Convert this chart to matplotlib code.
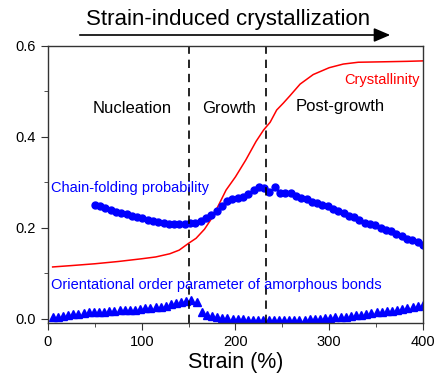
import numpy as np
import matplotlib
matplotlib.use("Agg")
import matplotlib.pyplot as plt
from matplotlib.ticker import MultipleLocator, FormatStrFormatter

plt.rcParams['font.family'] = ['Liberation Sans', 'DejaVu Sans']

# Crystallinity (red line)
cryst_x = [5, 25, 50, 75, 100, 115, 130, 140, 150, 158, 167, 176, 183, 190, 200,
           211, 222, 230, 237, 244, 251, 258, 269, 283, 300, 315, 331, 358, 383, 400]
cryst_y = [0.114, 0.117, 0.121, 0.126, 0.132, 0.136, 0.143, 0.151, 0.166, 0.177,
           0.197, 0.225, 0.254, 0.283, 0.312, 0.349, 0.390, 0.415, 0.432, 0.459,
           0.474, 0.490, 0.516, 0.537, 0.552, 0.560, 0.564, 0.565, 0.566, 0.567]

# Chain-folding probability (blue circles), strain 50..400
fold_y = [0.251, 0.248, 0.243, 0.239, 0.235, 0.232, 0.230, 0.227, 0.224, 0.221,
          0.218, 0.215, 0.212, 0.210, 0.209, 0.208, 0.208, 0.208, 0.210, 0.211,
          0.215, 0.222, 0.228, 0.236, 0.248, 0.258, 0.263, 0.265, 0.267, 0.274,
          0.284, 0.289, 0.288, 0.278, 0.289, 0.277, 0.276, 0.276, 0.270, 0.266,
          0.264, 0.257, 0.255, 0.251, 0.247, 0.241, 0.236, 0.232, 0.227, 0.223,
          0.218, 0.211, 0.208, 0.206, 0.200, 0.195, 0.192, 0.186, 0.181, 0.176,
          0.173, 0.168, 0.163]
fold_x = np.linspace(50, 400, len(fold_y))

# Orientational order parameter of amorphous bonds (blue triangles), strain 5..400
order_y = [0.003, 0.005, 0.007, 0.008, 0.010, 0.011, 0.013, 0.014, 0.014, 0.015,
           0.016, 0.017, 0.018, 0.019, 0.020, 0.019, 0.020, 0.022, 0.024, 0.024,
           0.025, 0.026, 0.029, 0.032, 0.035, 0.038, 0.040, 0.041, 0.038, 0.015,
           0.009, 0.006, 0.004, 0.002, 0.001, 0.000, -0.001, -0.001, -0.002, -0.003,
           -0.003, -0.003, -0.003, -0.003, -0.003, -0.003, -0.003, -0.003, -0.002, -0.002,
           -0.001, -0.001, 0.000, 0.001, 0.002, 0.003, 0.004, 0.005, 0.006, 0.008,
           0.009, 0.011, 0.012, 0.014, 0.015, 0.017, 0.018, 0.020, 0.022, 0.024,
           0.025, 0.028, 0.031]
order_x = np.linspace(5, 400, len(order_y))

stage_bounds = [150, 233]
stage_names = ["Nucleation", "Growth", "Post-growth"]
stage_pos = [(90, 0.462), (193, 0.462), (312, 0.466)]

fig = plt.figure(figsize=(4.36, 3.76), dpi=100)
ax = fig.add_axes([0.110, 0.140, 0.860, 0.738])

ax.plot(cryst_x, cryst_y, color='#ff0000', lw=1.1)
ax.plot(fold_x, fold_y, 'o', color='#0000ff', ms=5, mec='#0000ff')
ax.plot(order_x, order_y, '^', color='#0000ff', ms=5.6, mec='#0000ff')

for b in stage_bounds:
    ax.axvline(b, color='black', ls=(0, (5, 3.5)), lw=1.2)

for name, (sx, sy) in zip(stage_names, stage_pos):
    ax.text(sx, sy, name, fontsize=12, ha='center', va='center')

ax.text(397, 0.525, "Crystallinity", color='#ff0000', fontsize=10.5, ha='right', va='center')
ax.text(3, 0.288, "Chain-folding probability", color='#0000ff', fontsize=10.5, ha='left', va='center')
ax.text(3, 0.075, "Orientational order parameter of amorphous bonds", color='#0000ff',
        fontsize=10.5, ha='left', va='center')

ax.set_xlim(0, 400)
ax.set_ylim(-0.01, 0.6)
ax.xaxis.set_major_locator(MultipleLocator(100))
ax.xaxis.set_minor_locator(MultipleLocator(50))
ax.yaxis.set_major_locator(MultipleLocator(0.2))
ax.yaxis.set_minor_locator(MultipleLocator(0.1))
ax.yaxis.set_major_formatter(FormatStrFormatter('%.1f'))
ax.tick_params(which='both', direction='out', top=False, right=False, labelsize=10.5,
               color='#333333')
ax.tick_params(which='major', length=5)
ax.tick_params(which='minor', length=3)
for s in ax.spines.values():
    s.set_color('#333333')
    s.set_linewidth(1.0)

ax.set_xlabel("Strain (%)", fontsize=15.5, labelpad=2)

# Top arrow and caption
fig.text(228 / 436, 1 - 20 / 376, "Strain-induced crystallization", fontsize=16,
         ha='center', va='center')
fig.add_artist(matplotlib.patches.FancyArrowPatch(
    (77 / 436, 1 - 35 / 376), (393 / 436, 1 - 35 / 376), transform=fig.transFigure,
    arrowstyle='-|>,head_length=0.7,head_width=0.3', color='black', lw=1.2,
    mutation_scale=14))

fig.savefig("out.png", dpi=100)
